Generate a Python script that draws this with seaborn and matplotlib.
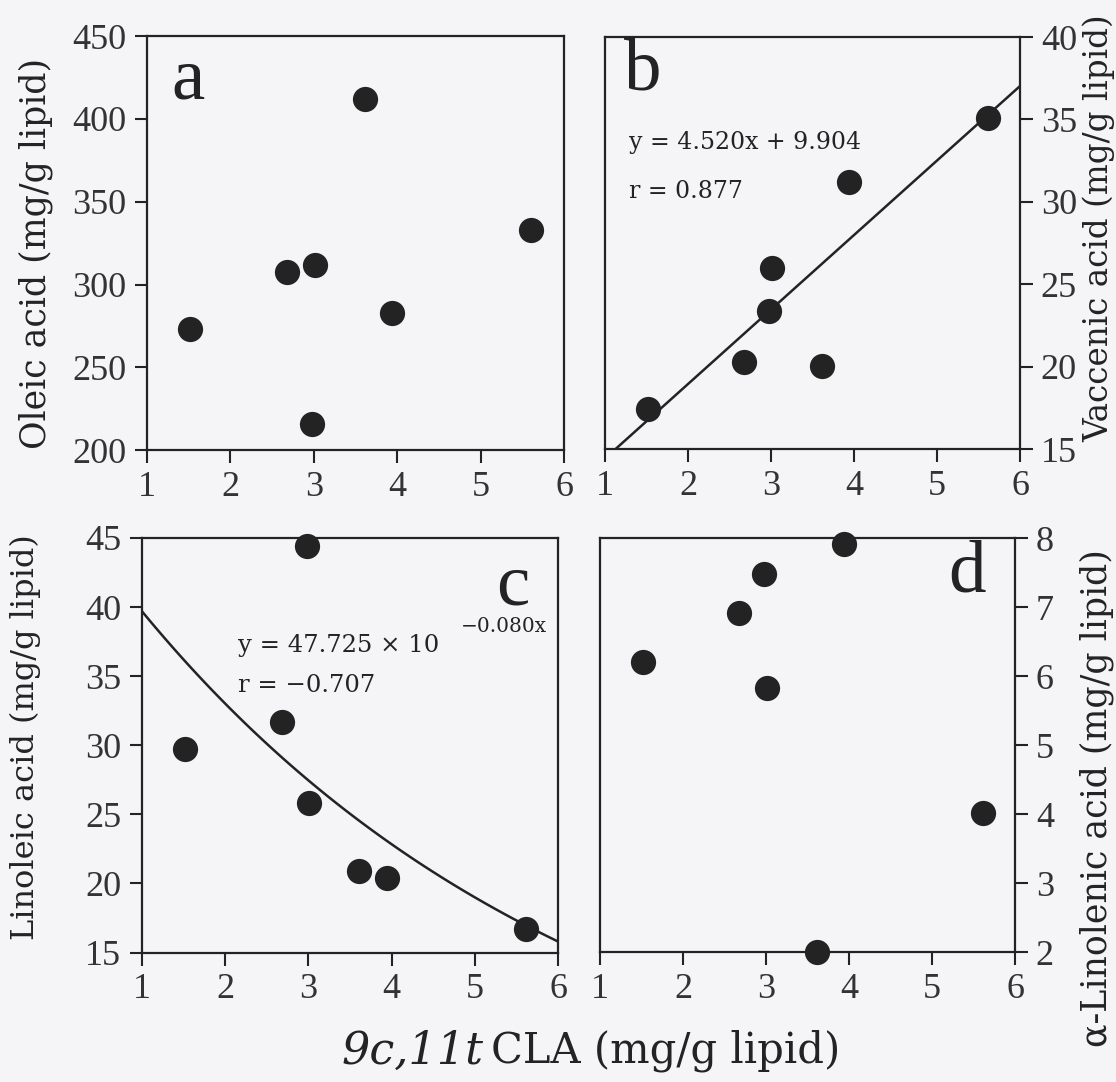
import numpy as np
import pandas as pd
import seaborn as sns
import matplotlib.pyplot as plt

# x values (9c,11t CLA, mg/g lipid) shared by all panels
cla = [1.52, 2.68, 2.98, 3.01, 3.61, 3.94, 5.61]
oleic = [273, 307.5, 216, 311.6, 411.8, 283, 333]
vaccenic = [17.4, 20.3, 23.4, 26.0, 20.05, 31.2, 35.1]
linoleic = [29.7, 31.65, 44.4, 25.8, 20.9, 20.4, 16.7]
linolenic = [6.21, 6.92, 7.48, 5.83, 2.0, 7.91, 4.01]

# fitted equations printed on the figure
b_slope, b_icpt = 4.520, 9.904
c_coef, c_exp = 47.725, -0.080

df = pd.DataFrame({'cla': cla, 'oleic': oleic, 'vaccenic': vaccenic,
                   'linoleic': linoleic, 'linolenic': linolenic})

sns.set_theme(style="ticks")
plt.rcParams['font.family'] = ['DejaVu Serif']
tick_font = 'Liberation Serif'

ink = '#232323'
bg = '#f5f4f6'
fig = plt.figure(figsize=(11.16, 10.82), dpi=100, facecolor=bg)

axa = fig.add_axes([0.1317, 0.584, 0.3737, 0.3826])
axb = fig.add_axes([0.5421, 0.585, 0.3719, 0.3808])
axc = fig.add_axes([0.1272, 0.1196, 0.3728, 0.3832])
axd = fig.add_axes([0.5376, 0.1201, 0.3719, 0.3826])

panels = [
    (axa, 'oleic', (200, 450), range(200, 451, 50), 'Oleic acid (mg/g lipid)', 25, 'left', 'a', (1.49, 422.8), (-0.266, 0.476)),
    (axb, 'vaccenic', (15, 40), range(15, 41, 5), 'Vaccenic acid (mg/g lipid)', 23.5, 'right', 'b', (1.46, 37.9), (1.191, 0.535)),
    (axc, 'linoleic', (15, 45), range(15, 46, 5), 'Linoleic acid (mg/g lipid)', 23, 'left', 'c', (5.46, 41.5), (-0.28, 0.52)),
    (axd, 'linolenic', (2, 8), range(2, 9, 1), 'α-Linolenic acid (mg/g lipid)', 25, 'right', 'd', (5.42, 7.48), (1.196, 0.372)),
]

for ax, col, ylim, yt, ylab, lsize, side, letter, lpos, lab_xy in panels:
    ax.set_facecolor(bg)
    sns.scatterplot(data=df, x='cla', y=col, ax=ax, s=330, color=ink,
                    edgecolor=ink, linewidth=0, zorder=5, clip_on=False)
    ax.set_xlim(1, 6)
    ax.set_ylim(*ylim)
    ax.set_xticks(range(1, 7))
    ax.set_yticks(list(yt))
    ax.set_xlabel('')
    ax.set_ylabel(ylab, fontsize=lsize, color=ink)
    if side == 'right':
        ax.yaxis.tick_right()
        ax.yaxis.set_label_position('right')
        ax.yaxis.label.set_rotation(90)
    ax.yaxis.label.set_va('center')
    ax.yaxis.set_label_coords(*lab_xy)
    for s in ax.spines.values():
        s.set_linewidth(1.6)
        s.set_color(ink)
    ax.tick_params(direction='out', length=9, width=1.5, color=ink,
                   labelsize=26, labelcolor='#333333', pad=6)
    for t in ax.get_xticklabels() + ax.get_yticklabels():
        t.set_fontfamily(tick_font)
    ax.text(*lpos, letter, fontsize=54, color=ink, ha='center', va='center',
            family=tick_font)

# panel b: linear fit
xs = np.linspace(1, 6, 100)
sns.lineplot(x=xs, y=b_slope * xs + b_icpt, ax=axb, color=ink, lw=1.8, zorder=4)
axb.set_ylim(15, 40)
axb.text(1.29, 33.57, 'y = 4.520x + 9.904', fontsize=17, color=ink, va='center')
axb.text(1.29, 30.65, 'r = 0.877', fontsize=17, color=ink, va='center')

# panel c: exponential fit
sns.lineplot(x=xs, y=c_coef * 10 ** (c_exp * xs), ax=axc, color=ink, lw=1.8, zorder=4)
axc.set_ylim(15, 45)
axc.text(2.15, 37.2, 'y = 47.725 × 10', fontsize=17.5, color=ink, va='center')
axc.text(4.83, 38.6, '−0.080x', fontsize=14.5, color=ink, va='center')
axc.text(2.15, 34.3, 'r = −0.707', fontsize=17.5, color=ink, va='center')

# shared x label: italic isomer name + upright rest
xlab_y = 1 - 1051 / 1082
fig.text(484 / 1116, xlab_y, '9c,11t', fontsize=32, style='italic',
         color=ink, ha='right', va='center')
fig.text(491 / 1116, xlab_y, 'CLA (mg/g lipid)', fontsize=30,
         color=ink, ha='left', va='center')

fig.savefig('out.png', dpi=100, facecolor=bg)
